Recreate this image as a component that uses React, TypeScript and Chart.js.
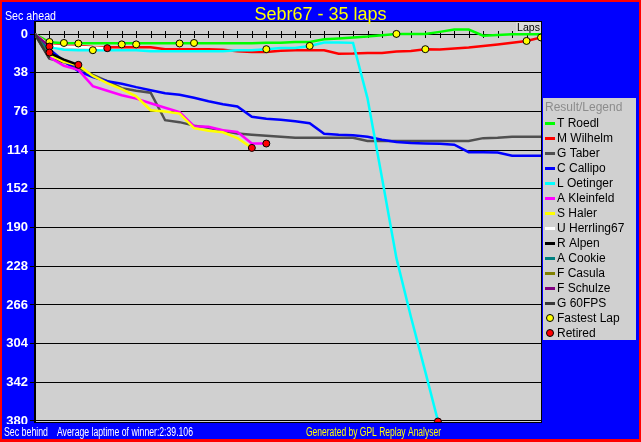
import React, { useEffect, useRef } from 'react';
import { Chart, registerables } from 'chart.js';

Chart.register(...registerables);

// ---------- data ----------
const TITLE = 'Sebr67 - 35 laps';
const TOTAL_LAPS = 35;
const yTickValues = [0, 38, 76, 114, 152, 190, 228, 266, 304, 342, 380];

const driverNames = [
  'T Roedl', 'M Wilhelm', 'G Taber', 'C Callipo', 'L Oetinger', 'A Kleinfeld', 'S Haler',
  'U Herrling67', 'R Alpen', 'A Cookie', 'F Casula', 'F Schulze', 'G 60FPS',
];
const driverColors = [
  '#00ff00', '#ff0000', '#505050', '#0000ff', '#00ffff', '#ff00ff', '#ffff00',
  '#ffffff', '#000000', '#008080', '#808000', '#800080', '#383838',
];

// seconds behind (positive) / ahead (negative), one value per lap from lap 0
const roedl = [0, 8, 8.8, 9, 9, 9, 9, 9, 9, 9, 9, 9, 9, 9, 9, 9, 8.5, 8.5, 7.6, 7.6, 5, 4.2, 3.2, 2.3, 1, -0.3, -0.3, -0.3, -2.3, -4.6, -4.6, 1.5, 0.8, 0, 0, 0];
const wilhelm = [0, 10.5, 11.3, 11.5, 12.5, 12.8, 12.8, 12.8, 12.8, 14.7, 14.7, 14.7, 14.7, 15.2, 16.7, 17.4, 17.4, 16.2, 15.7, 15.7, 15.7, 19.2, 19, 18.4, 18.4, 17, 16.4, 14.7, 15, 14, 13, 11.5, 10, 8.3, 6.6, 3.2];
const taber = [0, 24, 27.5, 33, 40, 46, 53, 55.5, 57.5, 84.5, 86.4, 89.8, 92, 94.8, 97.5, 98.7, 99.7, 100.8, 101.8, 101.8, 101.8, 101.8, 101.8, 104.8, 104.8, 104.8, 104.8, 104.8, 104.8, 104.8, 104.8, 102.1, 101.8, 100.8, 100.8, 100.8];
const callipo = [0, 14.7, 26.5, 36.3, 42.2, 46.2, 48.6, 52, 55, 58, 59.4, 62.4, 65.8, 68.8, 71, 81.2, 83, 84, 85.5, 87.4, 97.7, 98.7, 99.2, 100.7, 103.6, 106, 107, 107.3, 107.6, 108.5, 115.9, 115.9, 116.2, 119.5, 119.5, 119.5];
const oetinger = [0, 12.5, 15.2, 15.7, 15.7, 15.7, 15.7, 15.7, 16.7, 16.7, 16.7, 16.7, 16.7, 16.7, 15.7, 15.7, 14.7, 13.5, 13.5, 11.5, 8.2, 8.2, 8.5, 63, 141, 220, 277.6, 331.7, 387];
const kleinfeld = [0, 22.6, 31, 35, 51, 55.5, 60, 63.3, 67.8, 72.2, 76.6, 90.4, 91, 94.3, 96, 107.4, 107.4];
const haler = [0, 20, 27, 30.5, 41, 48, 54, 61, 74.7, 76, 78, 92.3, 94.8, 96.3, 102, 111.7];
const herrling = [0, 11, 12, 12.5, 13, 13.7];
const alpen = [0, 18.5, 25, 30.1];
const cookie = [0, 18];
const casula = [0, 23];
const schulze = [0, 12.1];
const fps60 = [0, 24];

const driverSeries = [roedl, wilhelm, taber, callipo, oetinger, kleinfeld, haler, herrling, alpen, cookie, casula, schulze, fps60];

const fastestLapLaps = [1, 2, 3, 4, 6, 7, 10, 11, 16, 19, 25, 27, 34, 35];
const fastestLapSecs = [7.6, 8.6, 9.1, 15.7, 10, 10, 9.1, 8.6, 14.7, 11.5, -0.3, 14.7, 6.6, 3.2];

const retiredLaps = [1, 1, 3, 5, 15, 16, 27.87];
const retiredSecs = [12.1, 18, 30.1, 13.7, 111.7, 107.4, 380.5];

const FONT = '"Liberation Sans", Arial, sans-serif';

const decorPlugin = {
  id: 'decor',
  beforeDraw(chart: any) {
    const { ctx, width, height } = chart;
    const { left, top, right, bottom } = chart.chartArea;
    ctx.save();
    ctx.fillStyle = '#ff0000';
    ctx.fillRect(0, 0, width, height);
    ctx.fillStyle = '#0000ff';
    ctx.fillRect(2, 2, width - 4, height - 5);
    ctx.fillStyle = '#d0d0d0';
    ctx.fillRect(left, top, right - left, bottom - top);
    ctx.restore();
  },
  beforeDatasetsDraw(chart: any) {
    const { ctx } = chart;
    const { left, top, right, bottom } = chart.chartArea;
    const xs = chart.scales.x;
    const ys = chart.scales.y;
    const y0 = Math.round(ys.getPixelForValue(0));
    ctx.save();
    ctx.strokeStyle = '#000';
    ctx.lineWidth = 1;
    ctx.beginPath();
    for (let lap = 1; lap < TOTAL_LAPS; lap++) {
      const x = Math.round(xs.getPixelForValue(lap)) + 0.5;
      ctx.moveTo(x, y0 - 3);
      ctx.lineTo(x, y0 + 4);
    }
    ctx.stroke();
    ctx.strokeRect(Math.round(left) - 0.5, Math.round(top) - 0.5, Math.round(right - left) + 1, Math.round(bottom - top) + 1);
    // Laps label box
    ctx.fillStyle = '#dcdcdc';
    ctx.fillRect(right - 25, top, 25, 11);
    ctx.fillStyle = '#000';
    ctx.font = `11px ${FONT}`;
    ctx.textAlign = 'right';
    ctx.textBaseline = 'alphabetic';
    ctx.fillText('Laps', right - 1, top + 8.5, 23);
    ctx.restore();
  },
  afterDraw(chart: any) {
    const { ctx, width, height } = chart;
    const { right } = chart.chartArea;
    ctx.save();
    // footer band
    ctx.fillStyle = '#0000ff';
    ctx.fillRect(2, 424, width - 4, height - 427);
    ctx.textBaseline = 'alphabetic';
    ctx.textAlign = 'left';
    ctx.font = `12px ${FONT}`;
    ctx.fillStyle = '#ffffff';
    ctx.fillText('Sec behind', 4, 435.5, 44);
    ctx.fillText('Average laptime of winner:2:39.106', 57, 435.5, 136);
    ctx.fillStyle = '#ffff00';
    ctx.textAlign = 'right';
    ctx.fillText('Generated by GPL Replay Analyser', 441, 435.5, 135);
    // header
    ctx.textAlign = 'left';
    ctx.fillStyle = '#ffffff';
    ctx.fillText('Sec ahead', 5, 19.5, 51);
    ctx.textAlign = 'center';
    ctx.fillStyle = '#ffff00';
    ctx.font = `18px ${FONT}`;
    ctx.fillText(TITLE, width / 2, 19.5);
    // legend
    const lx = right + 2;
    const ly = 98;
    ctx.fillStyle = '#d0d0d0';
    ctx.fillRect(lx, ly, width - 5 - lx, 242);
    ctx.textAlign = 'left';
    ctx.textBaseline = 'middle';
    ctx.font = `12px ${FONT}`;
    ctx.fillStyle = '#8c8c8c';
    ctx.fillText('Result/Legend', lx + 2, ly + 10);
    chart.data.datasets.forEach((ds: any, i: number) => {
      const cy = ly + 25 + i * 15;
      if (ds.showLine === false) {
        ctx.beginPath();
        ctx.arc(lx + 7, cy, 3.5, 0, Math.PI * 2);
        ctx.fillStyle = ds.pointBackgroundColor;
        ctx.fill();
        ctx.strokeStyle = '#000';
        ctx.lineWidth = 1;
        ctx.stroke();
      } else {
        ctx.fillStyle = ds.borderColor;
        ctx.fillRect(lx + 2, cy - 1, 10, 3);
      }
      ctx.fillStyle = '#000';
      ctx.fillText(ds.label, lx + 14, cy + 1);
    });
    ctx.restore();
  },
};

export default function App() {
  const ref = useRef<HTMLCanvasElement>(null);
  useEffect(() => {
    if (!ref.current) return;
    const lineSets = driverNames.map((name, i) => ({
      label: name,
      data: driverSeries[i].map((v, lap) => ({ x: lap, y: v })),
      borderColor: driverColors[i],
      backgroundColor: driverColors[i],
      borderWidth: 2.5,
      pointRadius: 0,
      tension: 0,
      fill: false,
      order: 20 - i,
    }));
    const markerSets = [
      {
        label: 'Fastest Lap',
        data: fastestLapLaps.map((lap, k) => ({ x: lap, y: fastestLapSecs[k] })),
        showLine: false,
        pointRadius: 3.5,
        pointStyle: 'circle',
        pointBackgroundColor: '#ffff00',
        pointBorderColor: '#000000',
        pointBorderWidth: 1,
        borderColor: '#000000',
        order: -1,
      },
      {
        label: 'Retired',
        data: retiredLaps.map((lap, k) => ({ x: lap, y: retiredSecs[k] })),
        showLine: false,
        pointRadius: 3.5,
        pointStyle: 'circle',
        pointBackgroundColor: '#ff0000',
        pointBorderColor: '#000000',
        pointBorderWidth: 1,
        borderColor: '#000000',
        order: -2,
      },
    ];
    const chart = new Chart(ref.current, {
      type: 'line',
      data: { datasets: [...lineSets, ...markerSets] as any },
      options: {
        animation: false,
        responsive: false,
        maintainAspectRatio: false,
        layout: { padding: { left: 0, top: 22, right: 100, bottom: 20 } },
        font: { family: FONT },
        plugins: {
          legend: { display: false },
          title: { display: false },
          tooltip: { enabled: false },
        },
        scales: {
          x: { type: 'linear', min: 0, max: TOTAL_LAPS, display: false },
          y: {
            min: -12,
            max: 381,
            reverse: true,
            afterBuildTicks: (axis: any) => {
              axis.ticks = yTickValues.map((v) => ({ value: v }));
            },
            afterFit: (axis: any) => {
              axis.width = 35;
            },
            grid: { color: '#000000', tickColor: '#000000', tickLength: 5, lineWidth: 1 },
            border: { color: '#000000' },
            ticks: {
              color: '#ffffff',
              padding: 2,
              font: { family: FONT, size: 13, weight: 'bold' },
            },
          },
        },
      } as any,
      plugins: [decorPlugin],
    });
    return () => chart.destroy();
  }, []);
  return (
    <div style={{ position: 'fixed', left: 0, top: 0, width: 641, height: 442 }}>
      <canvas ref={ref} width={641} height={442} style={{ display: 'block' }} />
    </div>
  );
}
